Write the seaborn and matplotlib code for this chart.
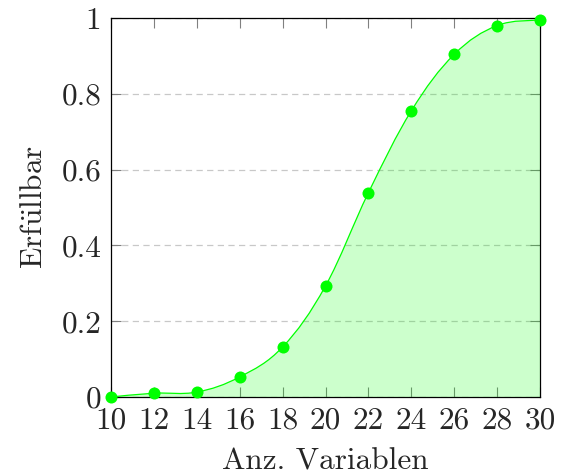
import numpy as np
import pandas as pd
import seaborn as sns
import matplotlib
matplotlib.use("Agg")
import matplotlib.pyplot as plt
from matplotlib.path import Path
from matplotlib.patches import PathPatch

# Anteil erfüllbarer Formeln je Anzahl Variablen
variables = [10, 12, 14, 16, 18, 20, 22, 24, 26, 28, 30]
satisfiable = [0.0, 0.010, 0.013, 0.053, 0.132, 0.293, 0.539, 0.755, 0.904, 0.980, 0.995]
x_ticks = [10, 12, 14, 16, 18, 20, 22, 24, 26, 28, 30]
y_ticks = [0, 0.2, 0.4, 0.6, 0.8, 1]
y_tick_labels = ["0", "0.2", "0.4", "0.6", "0.8", "1"]

sns.set_theme(style="ticks")
plt.rcParams["font.family"] = ["cmr10"]
plt.rcParams["mathtext.fontset"] = "cm"
plt.rcParams["axes.formatter.use_mathtext"] = True
plt.rcParams["axes.unicode_minus"] = False

GREEN = "#00ff00"
FS = 22.5
df = pd.DataFrame({"Variablen": variables, "Erfuellbar": satisfiable})

fig = plt.figure(figsize=(5.63, 4.75), dpi=100)
ax = fig.add_axes([111 / 563, 1 - 397 / 475, (540 - 111) / 563, (397 - 18) / 475])


def smooth_path(xs, ys, k=0.18):
    """Cubic Bezier path through the points (Catmull-Rom style tangents)."""
    pts = np.column_stack([xs, ys]).astype(float)
    n = len(pts)
    verts = [pts[0]]
    codes = [Path.MOVETO]
    for i in range(n - 1):
        p_prev = pts[max(i - 1, 0)]
        p0 = pts[i]
        p1 = pts[i + 1]
        p_next = pts[min(i + 2, n - 1)]
        c1 = p0 + (p1 - p_prev) * k
        c2 = p1 - (p_next - p0) * k
        verts += [c1, c2, p1]
        codes += [Path.CURVE4] * 3
    return verts, codes


verts, codes = smooth_path(df["Variablen"], df["Erfuellbar"])

# Fläche unter der Kurve
fill_verts = list(verts) + [(variables[-1], 0.0), (variables[0], 0.0), verts[0]]
fill_codes = list(codes) + [Path.LINETO, Path.LINETO, Path.CLOSEPOLY]
ax.add_patch(PathPatch(Path(fill_verts, fill_codes), facecolor=GREEN, alpha=0.2,
                       edgecolor="none", zorder=2.6))
# Geglättete Kurve
ax.add_patch(PathPatch(Path(verts, codes), facecolor="none", edgecolor=GREEN,
                       lw=0.9, zorder=3))

sns.scatterplot(data=df, x="Variablen", y="Erfuellbar", ax=ax, color=GREEN,
                s=75, edgecolor=GREEN, linewidth=0, zorder=4, clip_on=False)

ax.set_xlim(10, 30)
ax.set_ylim(0, 1)
ax.set_xticks(x_ticks)
ax.set_xticklabels([str(v) for v in x_ticks])
ax.set_yticks(y_ticks)
ax.set_yticklabels(y_tick_labels)

ax.yaxis.grid(True, linestyle=(0, (5, 3.5)), color="#c8c8c8", lw=0.9)
ax.xaxis.grid(False)
ax.set_axisbelow(True)

ax.tick_params(direction="in", length=7, width=0.8, color="#808080",
               top=True, right=True, labelsize=FS)
ax.tick_params(axis="x", pad=7)
ax.tick_params(axis="y", pad=7)
for sp in ax.spines.values():
    sp.set_color("black")
    sp.set_linewidth(0.9)

ax.set_xlabel("Anz. Variablen", fontsize=FS, labelpad=9)
ax.set_ylabel(r"$\mathrm{Erf\ddot{u}llbar}$", fontsize=FS, labelpad=10)

fig.savefig("out.png", dpi=100)
